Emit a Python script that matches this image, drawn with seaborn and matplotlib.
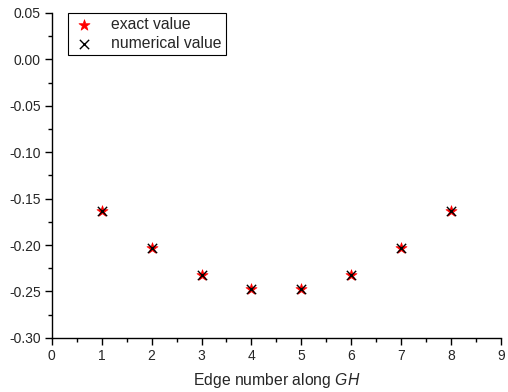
import matplotlib
matplotlib.use("Agg")
import matplotlib.pyplot as plt
import seaborn as sns
import pandas as pd
from matplotlib.ticker import MultipleLocator

edges = [1, 2, 3, 4, 5, 6, 7, 8]
exact_values = [-0.163, -0.203, -0.232, -0.247, -0.247, -0.232, -0.203, -0.163]
numerical_values = [-0.163, -0.203, -0.232, -0.247, -0.247, -0.232, -0.203, -0.163]

sns.set_style("ticks")
plt.rcParams['font.family'] = ['Liberation Sans', 'DejaVu Sans']
plt.rcParams['mathtext.fontset'] = 'custom'
plt.rcParams['mathtext.it'] = 'Liberation Sans:italic'
plt.rcParams['mathtext.rm'] = 'Liberation Sans'

fig = plt.figure(figsize=(5.08, 3.92), dpi=100)
ax = fig.add_axes([0.102, 0.138, 0.884, 0.829])

df_exact = pd.DataFrame({"x": edges, "y": exact_values})
df_num = pd.DataFrame({"x": edges, "y": numerical_values})

sns.scatterplot(data=df_exact, x="x", y="y", ax=ax, marker="*", s=70,
                color="red", edgecolor="red", linewidth=0.5, label="exact value", zorder=3)
sns.scatterplot(data=df_num, x="x", y="y", ax=ax, marker="x", s=45,
                color="black", linewidth=1.0, label="numerical value", zorder=4)

ax.set_xlim(0, 9)
ax.set_ylim(-0.30, 0.05)
ax.xaxis.set_major_locator(MultipleLocator(1))
ax.xaxis.set_minor_locator(MultipleLocator(0.5))
ax.yaxis.set_major_locator(MultipleLocator(0.05))
ax.yaxis.set_minor_locator(MultipleLocator(0.025))
ax.yaxis.set_major_formatter(matplotlib.ticker.FormatStrFormatter('%.2f'))
ax.tick_params(which='major', direction='out', length=5, width=1, labelsize=10, color='black', pad=3)
ax.tick_params(which='minor', direction='out', length=3, width=1, color='black')
for s in ['left', 'bottom']:
    ax.spines[s].set_linewidth(1.0)
    ax.spines[s].set_color('black')
sns.despine(ax=ax)

ax.set_xlabel(r"Edge number along $GH$", fontsize=11.3, labelpad=6)
ax.set_ylabel("")

leg = ax.legend(loc="upper left", bbox_to_anchor=(0.036, 1.0), fontsize=11.3,
                frameon=True, fancybox=False, edgecolor='black', framealpha=1,
                borderpad=0.25, labelspacing=0.25, handletextpad=0.9, handlelength=1.6,
                borderaxespad=0.0)
leg.get_frame().set_linewidth(0.8)

fig.savefig("out.png", dpi=100)
